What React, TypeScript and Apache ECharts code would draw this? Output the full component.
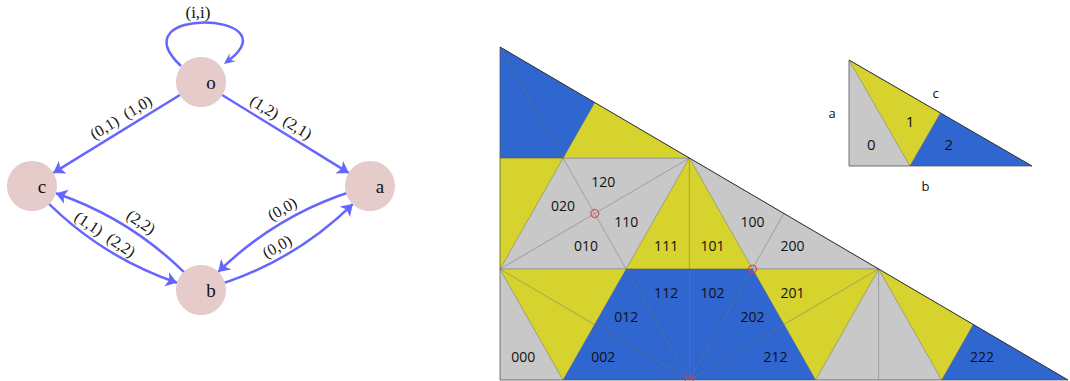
import React, { useEffect, useRef } from "react";
import * as echarts from "echarts";

// ---------- Left panel: state graph ----------
const nodeNames = ["o", "c", "a", "b"];
const nodeX = [0, -1, 1, 0];
const nodeY = [1, 0, 0, -1];

const edgeFrom = ["o", "o", "c", "b", "a", "b"];
const edgeTo = ["c", "a", "b", "c", "b", "a"];
const edgeLabels = ["(0,1)  (1,0)", "(1,2)  (2,1)", "(1,1)  (2,2)", "(2,2)", "(0,0)", "(0,0)"];
const edgeCurveness = [0, 0, -0.15, -0.15, -0.15, -0.15];
const loopNode = "o";
const loopLabel = "(i,i)";

// ---------- Right panel: triangle tiling ----------
// vertices of the base 30-60-90 triangle: [60° vertex, 90° vertex, 30° vertex]
const baseTriangle = [[0, 1], [0, 0], [1.732, 0]];
const tilingDepth = 3;
const labelledCodes = [
  "000", "002", "010", "012", "020", "100", "101", "102", "110",
  "111", "112", "120", "200", "201", "202", "212", "222",
];
const tileColors = ["#c8c8c8", "#d6d22e", "#3066d0"];
const markerX = [0.289, 0.77, 0.577];
const markerY = [0.5, 0.333, 0];
const insetDepth = 1;
const insetCodes = ["0", "1", "2"];
const sideNames = ["a", "b", "c"];

type Pt = number[];
function split(t: Pt[]): Pt[][] {
  const [p60, p90, p30] = t;
  const d = [p90[0] + (p30[0] - p90[0]) / 3, p90[1] + (p30[1] - p90[1]) / 3];
  const e = [(p60[0] + p30[0]) / 2, (p60[1] + p30[1]) / 2];
  return [[d, p90, p60], [d, e, p60], [d, e, p30]];
}
function buildTiles(depth: number) {
  let list: { code: string; tri: Pt[] }[] = [{ code: "", tri: baseTriangle }];
  for (let i = 0; i < depth; i++) {
    list = list.flatMap((it) => split(it.tri).map((t, k) => ({ code: it.code + k, tri: t })));
  }
  return list;
}

const SANS = "'Open Sans', sans-serif";
const SERIF = "'Liberation Serif', serif";

export default function App() {
  const ref = useRef<HTMLDivElement>(null);
  useEffect(() => {
    if (!ref.current) return;
    const chart = echarts.init(ref.current, undefined, { renderer: "svg" });

    const bigTiles = buildTiles(tilingDepth);
    const smallTiles = buildTiles(insetDepth);

    const tileData = (tiles: { code: string; tri: Pt[] }[]) =>
      tiles.map((t) => [
        t.tri[0][0], t.tri[0][1], t.tri[1][0], t.tri[1][1], t.tri[2][0], t.tri[2][1],
        Number(t.code[t.code.length - 1]),
      ]);

    const incenter = (p: number[][]) => {
      const la = Math.hypot(p[1][0] - p[2][0], p[1][1] - p[2][1]);
      const lb = Math.hypot(p[0][0] - p[2][0], p[0][1] - p[2][1]);
      const lc = Math.hypot(p[0][0] - p[1][0], p[0][1] - p[1][1]);
      const s = la + lb + lc;
      return [
        (la * p[0][0] + lb * p[1][0] + lc * p[2][0]) / s,
        (la * p[0][1] + lb * p[1][1] + lc * p[2][1]) / s,
      ];
    };

    const makeTileRender = (tiles: { code: string; tri: Pt[] }[], labels: string[], fontSize: number) =>
      (params: any, api: any) => {
        const pts = [0, 1, 2].map((k) => api.coord([api.value(2 * k), api.value(2 * k + 1)]));
        const digit = api.value(6);
        const code = tiles[params.dataIndex].code;
        const children: any[] = [
          {
            type: "polygon",
            shape: { points: pts },
            style: { fill: tileColors[digit], stroke: "rgba(70,70,70,0.45)", lineWidth: 0.6 },
          },
        ];
        if (labels.includes(code)) {
          const c = incenter(pts);
          children.push({
            type: "text",
            x: c[0],
            y: c[1],
            style: {
              text: code,
              fill: "#111",
              font: `${fontSize}px ${SANS}`,
              align: "center",
              verticalAlign: "middle",
            },
          });
        }
        return { type: "group", children };
      };

    const outlineRender = (withSides: boolean) => (params: any, api: any) => {
      const pts = baseTriangle.map((p) => api.coord(p));
      const children: any[] = [
        { type: "polyline", shape: { points: [pts[0], pts[2]] }, style: { stroke: "#333", lineWidth: 1, fill: "none" } },
        { type: "polyline", shape: { points: [pts[0], pts[1], pts[2]] }, style: { stroke: "rgba(90,90,90,0.6)", lineWidth: 1, fill: "none" } },
      ];
      if (withSides) {
        const mid = (a: Pt, b: Pt) => [(a[0] + b[0]) / 2, (a[1] + b[1]) / 2];
        const ma = mid(pts[0], pts[1]);
        const mb = mid(pts[1], pts[2]);
        const mc = mid(pts[0], pts[2]);
        const pos = [
          [ma[0] - 17, ma[1]],
          [mb[0] - 15, mb[1] + 20],
          [mc[0] - 5, mc[1] - 20],
        ];
        sideNames.forEach((s, i) =>
          children.push({
            type: "text",
            x: pos[i][0],
            y: pos[i][1],
            style: { text: s, fill: "#111", font: `13px ${SANS}`, align: "center", verticalAlign: "middle" },
          })
        );
      }
      return { type: "group", children };
    };

    const loopRender = (params: any, api: any) => {
      const c = api.coord([api.value(0), api.value(1)]);
      const P0 = [c[0] - 20, c[1] - 16];
      const P1 = [c[0] - 84, c[1] - 76];
      const P2 = [c[0] + 90, c[1] - 70];
      const P3 = [c[0] + 23, c[1] - 18];
      const dx = P3[0] - P2[0];
      const dy = P3[1] - P2[1];
      const len = Math.hypot(dx, dy);
      const ux = dx / len, uy = dy / len;
      const nx = -uy, ny = ux;
      const back = [P3[0] - ux * 11, P3[1] - uy * 11];
      const notch = [P3[0] - ux * 7, P3[1] - uy * 7];
      return {
        type: "group",
        children: [
          {
            type: "bezierCurve",
            shape: { x1: P0[0], y1: P0[1], cpx1: P1[0], cpy1: P1[1], cpx2: P2[0], cpy2: P2[1], x2: notch[0], y2: notch[1] },
            style: { stroke: "#6666ff", lineWidth: 2.5, fill: "none" },
          },
          {
            type: "polygon",
            shape: {
              points: [P3, [back[0] + nx * 5, back[1] + ny * 5], notch, [back[0] - nx * 5, back[1] - ny * 5]],
            },
            style: { fill: "#6666ff" },
          },
          {
            type: "text",
            x: c[0] - 3,
            y: c[1] - 70,
            style: { text: loopLabel, fill: "#111", font: `17px ${SERIF}`, align: "center", verticalAlign: "middle" },
          },
        ],
      };
    };

    const hiddenAxis = (gridIndex: number, min: number, max: number) => ({
      type: "value",
      gridIndex,
      min,
      max,
      show: false,
      splitLine: { show: false },
    });

    const nodeIndex = nodeNames.indexOf(loopNode);

    chart.setOption({
      animation: false,
      backgroundColor: "#ffffff",
      grid: [
        { left: 500, top: 47, width: 568, height: 333 },
        { left: 849, top: 60, width: 183, height: 106 },
        { left: 32, top: 82, width: 338, height: 208 },
      ],
      xAxis: [hiddenAxis(0, 0, 1.732), hiddenAxis(1, 0, 1.732), hiddenAxis(2, -1, 1)],
      yAxis: [hiddenAxis(0, 0, 1), hiddenAxis(1, 0, 1), hiddenAxis(2, -1, 1)],
      series: [
        {
          type: "custom",
          xAxisIndex: 0,
          yAxisIndex: 0,
          coordinateSystem: "cartesian2d",
          renderItem: makeTileRender(bigTiles, labelledCodes, 14),
          data: tileData(bigTiles),
          silent: true,
          clip: false,
        },
        {
          type: "custom",
          xAxisIndex: 0,
          yAxisIndex: 0,
          coordinateSystem: "cartesian2d",
          renderItem: outlineRender(false),
          data: [[0, 0]],
          silent: true,
          clip: false,
        },
        {
          type: "scatter",
          xAxisIndex: 0,
          yAxisIndex: 0,
          data: markerX.map((x, i) => [x, markerY[i]]),
          symbol: "circle",
          symbolSize: 8,
          itemStyle: { color: "rgba(0,0,0,0)", borderColor: "#e8343a", borderWidth: 1.3 },
          silent: true,
          clip: false,
        },
        {
          type: "custom",
          xAxisIndex: 1,
          yAxisIndex: 1,
          coordinateSystem: "cartesian2d",
          renderItem: makeTileRender(smallTiles, insetCodes, 15),
          data: tileData(smallTiles),
          silent: true,
          clip: false,
        },
        {
          type: "custom",
          xAxisIndex: 1,
          yAxisIndex: 1,
          coordinateSystem: "cartesian2d",
          renderItem: outlineRender(true),
          data: [[0, 0]],
          silent: true,
          clip: false,
        },
        {
          type: "custom",
          xAxisIndex: 2,
          yAxisIndex: 2,
          coordinateSystem: "cartesian2d",
          renderItem: loopRender,
          data: [[nodeX[nodeIndex], nodeY[nodeIndex]]],
          silent: true,
          clip: false,
          z: 1,
        },
        {
          type: "graph",
          coordinateSystem: "cartesian2d",
          xAxisIndex: 2,
          yAxisIndex: 2,
          layout: "none",
          z: 3,
          symbol: "circle",
          symbolSize: 50,
          itemStyle: { color: "#e6cbcb" },
          label: {
            show: true,
            position: "inside",
            offset: [10, 0],
            fontFamily: SERIF,
            fontSize: 19,
            color: "#111",
          },
          edgeSymbol: ["none", "arrow"],
          edgeSymbolSize: 11,
          lineStyle: { color: "#6666ff", width: 2.5, opacity: 1 },
          edgeLabel: {
            show: true,
            position: "insideMiddleTop",
            fontFamily: SERIF,
            fontSize: 16,
            color: "#111",
            distance: 4,
          },
          data: nodeNames.map((n, i) => ({ name: n, value: [nodeX[i], nodeY[i]] })),
          links: edgeFrom.map((s, i) => ({
            source: s,
            target: edgeTo[i],
            lineStyle: { curveness: edgeCurveness[i] },
            label: { show: true, formatter: edgeLabels[i] },
          })),
          silent: true,
        },
      ],
    });
    return () => chart.dispose();
  }, []);

  return (
    <div
      ref={ref}
      style={{ position: "fixed", left: 0, top: 0, width: 1070, height: 381, background: "#fff" }}
    />
  );
}
